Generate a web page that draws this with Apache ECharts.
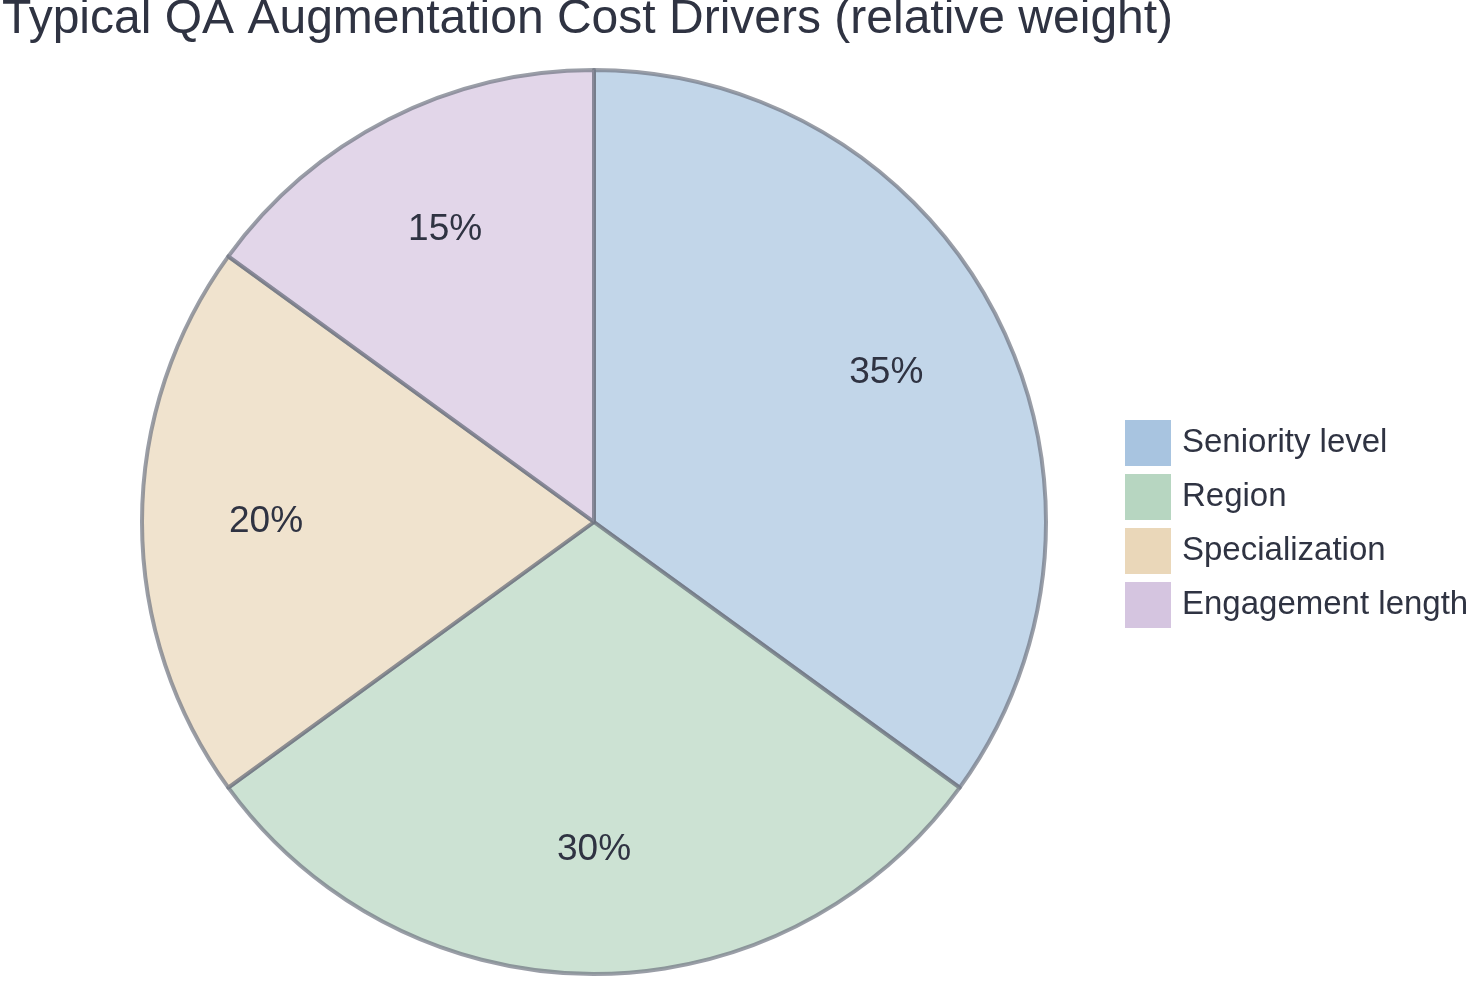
<!DOCTYPE html>
<html><head><meta charset="utf-8">
<script src="https://cdn.jsdelivr.net/npm/echarts@6/dist/echarts.min.js"></script>
<style>html,body{margin:0;padding:0;background:#fff}#c{width:1471px;height:982px}</style>
</head><body><div id="c"></div>
<script>
const categories = ["Seniority level", "Region", "Specialization", "Engagement length"];
const values = [35, 30, 20, 15];
const colors = ["#a8c4e0", "#b7d6c1", "#ead7b9", "#d5c5e0"];
const chart = echarts.init(document.getElementById('c'));
const data = categories.map((n, i) => ({name: n, value: values[i]}));
chart.setOption({
  animation: false,
  color: colors,
  title: {text: "Typical QA Augmentation Cost Drivers (relative weight)", left: -3, top: -9,
    textStyle: {fontFamily: "Liberation Sans", fontSize: 48, fontWeight: 'normal', color: '#2f3342'}},
  legend: {orient: 'vertical', left: 1120, top: 415, itemWidth: 46, itemHeight: 46, itemGap: 8,
    icon: 'rect', itemStyle: {borderWidth: 0, opacity: 1},
    textStyle: {fontFamily: "Liberation Sans", fontSize: 33, color: '#2f3342', padding: [0,0,0,6]},
    data: categories},
  series: [{
    type: 'pie', center: [594, 522], radius: [0, 452], startAngle: 90, clockwise: true,
    data: data, label: {show: false}, labelLine: {show: false},
    itemStyle: {opacity: 0.7, borderColor: '#6f7582', borderWidth: 4}, emphasis: {disabled: true}
  }, {
    type: 'pie', center: [594, 522], radius: [0, 650], startAngle: 90, clockwise: true,
    data: data, legendHoverLink: false, silent: true,
    itemStyle: {color: 'rgba(0,0,0,0)'}, labelLine: {show: false},
    label: {show: true, position: 'inner', formatter: '{c}%', fontFamily: "Liberation Sans", fontSize: 37, color: '#2f3342'}
  }]
});
</script></body></html>
